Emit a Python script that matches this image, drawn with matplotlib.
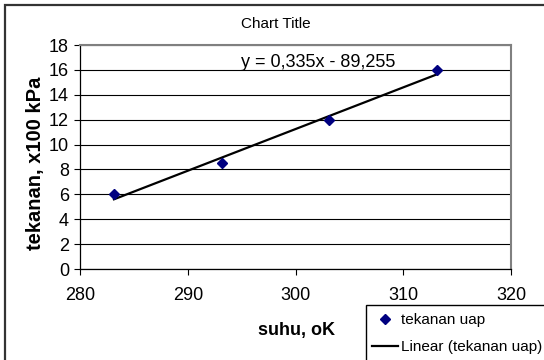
import matplotlib
matplotlib.use('Agg')  # no display
import matplotlib.pyplot as plt
from matplotlib.patches import Rectangle

plt.rcParams['font.family'] = ['Liberation Sans', 'DejaVu Sans']

# measured data: vapour pressure vs temperature
suhu = [283.15, 293.15, 303.15, 313.15]
tekanan = [6, 8.5, 12, 16]
slope = 0.335
intercept = -89.255
x_ticks = [280, 290, 300, 310, 320]
y_ticks = [0, 2, 4, 6, 8, 10, 12, 14, 16, 18]

W, H = 544, 360
fig = plt.figure(figsize=(W / 100, H / 100), dpi=100)


def px(x, y):
    """pixel (from top-left) -> figure fraction"""
    return x / W, 1 - y / H


def box_to_edge(x0, y0, **kw):
    """rectangle from pixel (x0, y0) running off the right/bottom edge"""
    fx, fy = px(x0, y0)
    return Rectangle((fx, -0.2), 2.0, fy + 0.2, transform=fig.transFigure,
                     fill=False, **kw)


# outer chart-area border (runs off the right/bottom edge like the source)
fig.patches.append(box_to_edge(4.5, 4.5, edgecolor='#333333', linewidth=1.6))

left, top, right, bottom = 80, 45, 511, 269
ax = fig.add_axes([left / W, 1 - bottom / H, (right - left) / W, (bottom - top) / H])

trend_x = [suhu[0], suhu[-1]]
trend_y = [slope * v + intercept for v in trend_x]

ax.plot(suhu, tekanan, linestyle='none', marker='D', markersize=5.5,
        color='#000080', label='tekanan uap', zorder=4)
ax.plot(trend_x, trend_y, color='black', linewidth=1.6,
        label='Linear (tekanan uap)', zorder=3)

ax.set_xlim(280, 320)
ax.set_ylim(0, 18)
ax.set_xticks(x_ticks)
ax.set_yticks(y_ticks)
ax.tick_params(direction='out', length=4, width=0.8, labelsize=13, pad=4)
ax.tick_params(axis='x', pad=9)
ax.yaxis.grid(True, color='black', linewidth=0.8)
ax.set_axisbelow(True)

for side in ('top', 'right'):
    ax.spines[side].set_color('#808080')
    ax.spines[side].set_linewidth(1.5)
for side in ('left', 'bottom'):
    ax.spines[side].set_color('black')
    ax.spines[side].set_linewidth(0.9)

fig.text(*px(276, 24), 'Chart Title', fontsize=11, ha='center', va='center')
fig.text(*px(296, 331), 'suhu, oK', fontsize=13, fontweight='bold',
         ha='center', va='center')
fig.text(*px(36, 163), 'tekanan, x100 kPa', fontsize=14.5, fontweight='bold',
         ha='center', va='center', rotation=90)
fig.text(*px(241, 67), 'y = 0,335x - 89,255', fontsize=13, ha='left', va='baseline')

# legend box, cut off by the image edge
fig.patches.append(box_to_edge(366, 305, edgecolor='black', linewidth=1.0))
fig.legend(loc='upper left', bbox_to_anchor=px(372, 313), frameon=False,
           fontsize=11, borderpad=0, borderaxespad=0, handlelength=1.7,
           handletextpad=0.2, labelspacing=0.85, markerscale=1.0)

fig.savefig('out.png', dpi=100)
